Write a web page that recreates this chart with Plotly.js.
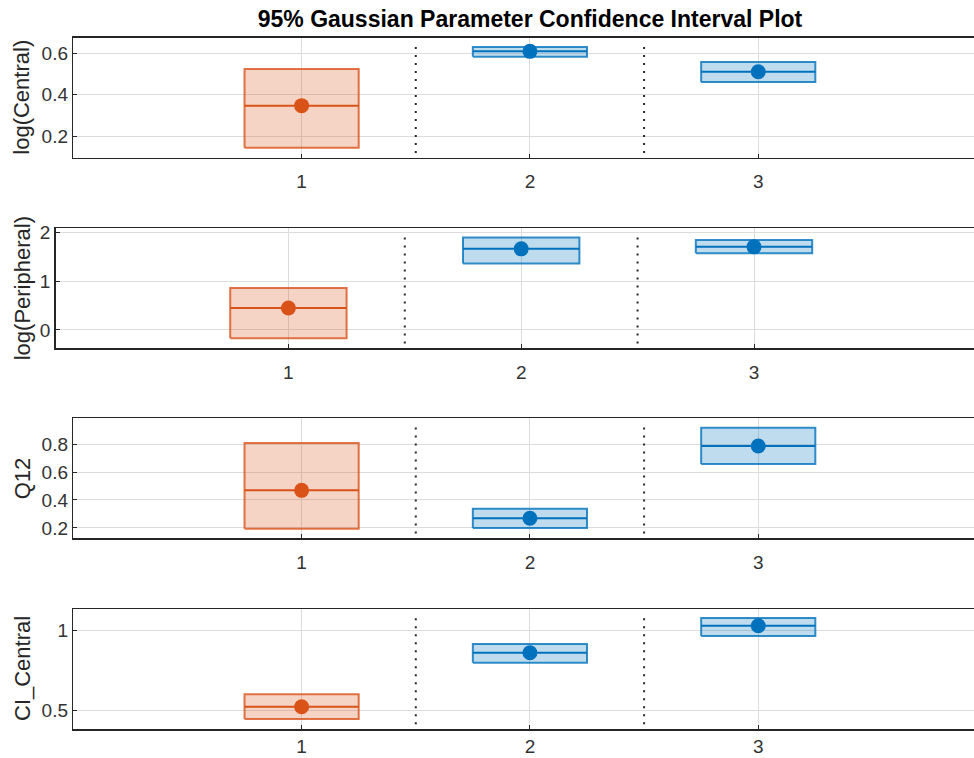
<!DOCTYPE html>
<html>
<head>
<meta charset="utf-8">
<script src="https://cdn.plot.ly/plotly-3.0.1.min.js"></script>
<style>html,body{margin:0;padding:0;background:#fff;overflow:hidden}</style>
</head>
<body>
<div id="chart" style="width:974px;height:758px"></div>
<script>
// ---- data ----
const categories = [1, 2, 3];
const paramNames = ["log(Central)", "log(Peripheral)", "Q12", "CI_Central"];
// estimate, lower CI, upper CI for each parameter (per category)
const estCentral = [0.347, 0.610, 0.511];
const lowCentral = [0.143, 0.584, 0.461];
const upCentral  = [0.524, 0.631, 0.558];

const estPeripheral = [0.45, 1.66, 1.70];
const lowPeripheral = [-0.17, 1.36, 1.57];
const upPeripheral  = [0.857, 1.89, 1.842];

const estQ12 = [0.469, 0.269, 0.786];
const lowQ12 = [0.195, 0.200, 0.657];
const upQ12  = [0.807, 0.338, 0.916];

const estCI = [0.525, 0.8625, 1.031];
const lowCI = [0.448, 0.800, 0.967];
const upCI  = [0.603, 0.917, 1.080];

const yRanges = [[0.095, 0.676], [-0.375, 2.08], [0.126, 0.984], [0.386, 1.136]];
const yTicks = [[0.2, 0.4, 0.6], [0, 1, 2], [0.2, 0.4, 0.6, 0.8], [0.5, 1]];
const tickText = [["0.2","0.4","0.6"], ["0","1","2"], ["0.2","0.4","0.6","0.8"], ["0.5","1"]];
// which categories are flagged (orange) vs ok (blue)
const flagged = [true, false, false];

const groups = [
  {est: estCentral, lo: lowCentral, up: upCentral},
  {est: estPeripheral, lo: lowPeripheral, up: upPeripheral},
  {est: estQ12, lo: lowQ12, up: upQ12},
  {est: estCI, lo: lowCI, up: upCI}
];

// ---- layout geometry (pixels) ----
const W = 974, H = 758;
const plotTops = [37.7, 228.3, 418.3, 609];
const plotH = 120;
const plotLefts = [73.3, 55.6, 73.3, 73.3];
const xStandoff = [6, 6, 6, 0];
const halfW = 0.25;
const xEnd = 3.945;

const ORANGE = [217, 83, 25];
const BLUE = [0, 114, 189];
const rgba = (c, a) => `rgba(${c[0]},${c[1]},${c[2]},${a})`;
const FONT = "Liberation Sans, Arial, sans-serif";

const traces = [];
const shapes = [];
const annotations = [];
const layout = {
  width: W, height: H,
  margin: {l: 0, r: 0, t: 0, b: 0},
  paper_bgcolor: "#fff", plot_bgcolor: "#fff",
  showlegend: false,
  font: {family: FONT, color: "#262626", size: 19},
  title: {
    text: "<b>95% Gaussian Parameter Confidence Interval Plot</b>",
    x: 530 / W, xanchor: "center", y: 1 - 19 / H, yanchor: "middle",
    font: {size: 23, color: "#000", family: FONT}
  }
};

groups.forEach((g, k) => {
  const n = k + 1;
  const xa = "x" + (n === 1 ? "" : n);
  const ya = "y" + (n === 1 ? "" : n);
  categories.forEach((c, i) => {
    const col = flagged[i] ? ORANGE : BLUE;
    // CI box
    traces.push({
      type: "scatter", mode: "lines", xaxis: xa, yaxis: ya,
      x: [c - halfW, c + halfW, c + halfW, c - halfW, c - halfW],
      y: [g.lo[i], g.lo[i], g.up[i], g.up[i], g.lo[i]],
      fill: "toself", fillcolor: rgba(col, 0.25),
      line: {color: rgba(col, 0.8), width: 2}, hoverinfo: "skip"
    });
    // estimate line
    traces.push({
      type: "scatter", mode: "lines", xaxis: xa, yaxis: ya,
      x: [c - halfW, c + halfW], y: [g.est[i], g.est[i]],
      line: {color: rgba(col, 1), width: 2}, hoverinfo: "skip"
    });
    // estimate marker
    traces.push({
      type: "scatter", mode: "markers", xaxis: xa, yaxis: ya,
      x: [c], y: [g.est[i]],
      marker: {color: rgba(col, 1), size: 15, line: {width: 0}}
    });
  });
  // dotted separators between categories
  categories.slice(0, -1).forEach(c => {
    shapes.push({
      type: "line", xref: xa, yref: ya + " domain",
      x0: c + 0.5, x1: c + 0.5, y0: 0.04, y1: 0.96,
      line: {color: "#262626", width: 2, dash: "2px,6px"}
    });
  });
  const top = plotTops[k];
  const axisCommon = {
    showline: true, linecolor: "#262626", linewidth: 1.5,
    showgrid: true, gridcolor: "#dcdcdc", gridwidth: 1,
    zeroline: false, ticks: "inside", ticklen: 4, tickcolor: "#262626",
    tickfont: {size: 19, color: "#333", family: FONT},
    fixedrange: true
  };
  layout["xaxis" + (n === 1 ? "" : n)] = Object.assign({}, axisCommon, {
    domain: [plotLefts[k] / W, 1],
    anchor: ya, range: [0, xEnd],
    tickvals: categories, ticktext: categories.map(String),
    mirror: true, ticklabelstandoff: xStandoff[k]
  });
  layout["yaxis" + (n === 1 ? "" : n)] = Object.assign({}, axisCommon, {
    domain: [1 - (top + plotH) / H, 1 - top / H],
    anchor: xa, range: yRanges[k],
    tickvals: yTicks[k], ticktext: tickText[k],
    mirror: false, ticklabelstandoff: 0
  });
  annotations.push({
    xref: "paper", yref: "paper",
    x: 22 / W, y: 1 - (top + plotH / 2) / H,
    text: paramNames[k], textangle: -90, showarrow: false,
    xanchor: "center", yanchor: "middle",
    font: {size: 22, color: "#262626", family: FONT}
  });
});
layout.shapes = shapes;
layout.annotations = annotations;

Plotly.newPlot("chart", traces, layout, {displayModeBar: false, staticPlot: true});
</script>
</body>
</html>
